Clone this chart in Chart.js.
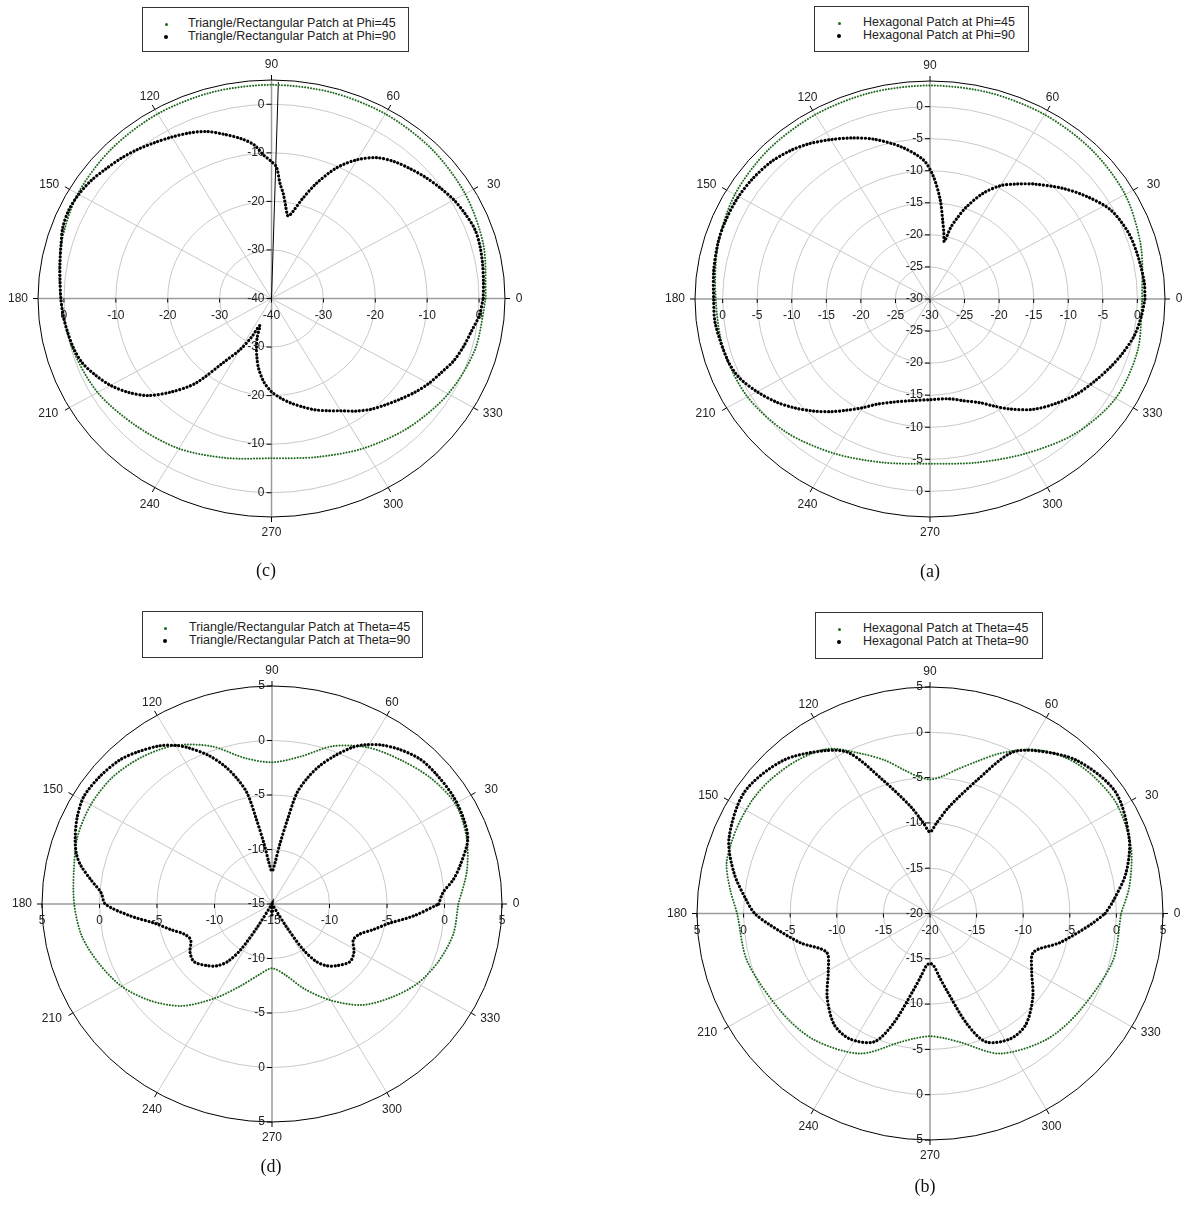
<!DOCTYPE html>
<html>
<head>
<meta charset="utf-8">
<script src="https://cdn.jsdelivr.net/npm/chart.js@4.4.1/dist/chart.umd.min.js"></script>
<style>
body { margin: 0; background: #fff; width: 1188px; height: 1205px; position: relative; overflow: hidden; font-family: "Liberation Sans", Arial, sans-serif; }
canvas { position: absolute; }
.leg { position: absolute; border: 1px solid #333; background: #fff; box-sizing: border-box; }
.leg .txt { position: absolute; white-space: nowrap; font-size: 12.5px; line-height: 13px; color: #222; }
.leg .dot { position: absolute; border-radius: 50%; }
.cap { position: absolute; font-family: "Liberation Serif", "Times New Roman", serif; font-size: 18px; color: #111; transform: translate(-50%, -50%); }
</style>
</head>
<body>
<canvas id="pc" width="594" height="600" style="left:0;top:0;width:594px;height:600px"></canvas>
<canvas id="pa" width="594" height="600" style="left:594px;top:0;width:594px;height:600px"></canvas>
<canvas id="pd" width="594" height="605" style="left:0;top:600px;width:594px;height:605px"></canvas>
<canvas id="pb" width="594" height="605" style="left:594px;top:600px;width:594px;height:605px"></canvas>
<script>
// angle labels around every plot
const angleLabels = [0, 30, 60, 90, 120, 150, 180, 210, 240, 270, 300, 330];

// (c) Triangle/Rectangular, Phi cuts
const cTicks = [-40, -30, -20, -10, 0];
const cAngPhi45 = [0,15,30,45,60,75,90,105,120,135,150,165,180,195,210,225,240,255,270,285,300,315,330,345,360];
const cPhi45 = [1.3,2.3,3.1,3.6,3.9,4.0,4.0,4.0,3.9,3.6,3.1,2.0,0.6,-0.3,-1.3,-3.0,-4.3,-6.0,-7.1,-6.2,-4.4,-2.5,-0.7,0.6,1.3];
const cAngPhi90 = [0,5,10,15,20,25,30,35,40,45,50,55,60,65,70,74,77,79,80,82,84,86,88,90,93,96,100,105,110,115,120,125,130,135,140,145,150,155,160,165,170,175,180,185,190,195,200,205,210,215,220,225,230,235,240,244,248,251,254,257,260,265,270,275,280,285,290,295,300,305,310,315,320,325,330,335,340,345,350,355,360];
const cPhi90 = [0.8,1.0,1.3,1.6,1.7,1.2,0.6,-0.3,-1.2,-2.2,-3.2,-4.6,-7.0,-10.3,-14.8,-18.8,-21.6,-22.7,-22.5,-20.6,-18.3,-16.3,-12.9,-11.8,-10.4,-8.2,-6.6,-5.0,-3.4,-2.4,-1.6,-0.8,0.1,0.9,1.6,2.4,2.9,3.1,2.8,2.0,1.4,0.9,0.6,0.3,-0.1,-0.5,-1.2,-2.6,-4.2,-6.3,-8.9,-12.8,-17.2,-24.0,-27.8,-31.0,-34.0,-31.5,-29.5,-27.5,-25.5,-22.8,-20.8,-19.4,-18.1,-16.9,-15.6,-14.5,-13.3,-11.7,-10.2,-9.0,-7.7,-6.3,-5.0,-3.9,-2.6,-1.7,-0.9,0.2,0.8];
const cStrayAng = [88.3, 88.3];
const cStray = [-40, 4.6];

// (a) Hexagonal, Phi cuts
const aTicks = [-30, -25, -20, -15, -10, -5, 0];
const aAngPhi45 = [0,15,30,45,60,75,90,105,120,135,150,165,180,195,210,225,240,255,270,285,300,315,330,345,360];
const aPhi45 = [0.7,1.6,2.6,3.0,3.2,3.3,3.3,3.3,3.2,3.0,2.6,1.8,1.0,0.9,0.5,-0.6,-2.2,-3.6,-4.3,-3.6,-2.2,-0.3,1.0,1.1,0.7];
const aAngPhi90 = [0,5,13,20,28,35,42,50,55,60,65,70,73,75,77,79,81.5,84.5,88.5,92.5,100,108,114,120,126,131,137,144,151,158,164,172,180,187,198,204,210,216,221,226,231,235,240,245,252,260,270,280,287,294,299,304,311,318,325,332,338,343,349,355,360];
const aPhi90 = [1.1,1.1,0.8,0.5,-0.4,-2.2,-4.2,-6.6,-8.1,-9.6,-11.8,-14.8,-17.0,-18.5,-20.8,-19.5,-17.6,-14.5,-10.9,-8.3,-5.9,-3.8,-2.5,-1.3,-0.1,0.7,1.4,1.8,2.0,2.0,1.9,1.6,1.3,1.3,0.8,0.2,-1.1,-2.6,-4.1,-5.7,-7.4,-8.8,-10.4,-11.9,-13.1,-13.9,-14.3,-14.2,-13.4,-12.3,-10.9,-9.3,-7.2,-5.6,-4.1,-2.9,-1.8,-0.9,0.1,0.7,1.1];

// (d) Triangle/Rectangular, Theta cuts
const dTicks = [-15, -10, -5, 0, 5];
const dAngTh45 = [0,10,20,30,40,50,60,70,80,90,100,110,120,130,140,150,160,170,180,190,200,210,220,230,240,250,260,270,280,290,300,310,320,330,340,350,360];
const dTh45 = [1.2,2.2,3.0,3.4,3.0,2.3,1.6,0.4,-1.3,-2.0,-1.4,0.4,1.8,2.6,3.1,3.2,3.0,2.5,2.2,1.8,1.0,0.1,-1.2,-2.8,-5.0,-7.0,-8.4,-9.1,-8.4,-6.7,-4.8,-2.9,-1.6,-0.4,0.4,1.0,1.2];
const dAngTh90 = [0,4,8,12,19,25,32,40,46,52,57,61,64,68,72,75,78,80,83,86,90,94,97,100,102,105,108,112,117,120,124,130,135,142,149,155,161,165,168,172,176,180,185,190,195,200,205,212,218,225,230,234,237,239,242,250,262,267,270,273,278,290,298,301,303,306,310,315,322,328,335,340,345,350,355,360];
const dTh90 = [-0.5,-0.1,0.9,1.7,3.0,3.4,3.6,3.6,3.5,3.0,2.4,1.7,1.0,-0.3,-1.7,-3.0,-4.6,-7.0,-9.5,-11.2,-12.0,-11.2,-9.5,-7.0,-4.6,-3.0,-1.7,-0.3,1.1,1.8,2.5,3.2,3.7,4.0,4.1,3.7,3.1,2.6,2.0,0.9,-0.1,-0.5,-2.6,-4.7,-5.9,-6.9,-7.2,-6.6,-6.4,-7.0,-7.6,-8.5,-10.0,-12.5,-15.0,-15.0,-15.0,-14.3,-14.0,-14.3,-15.0,-15.0,-15.0,-12.5,-10.0,-8.5,-7.6,-7.0,-6.4,-6.6,-7.2,-6.9,-5.9,-4.7,-2.6,-0.5];

// (b) Hexagonal, Theta cuts
const bTicks = [-20, -15, -10, -5, 0, 5];
const bAngTh45 = [0,8,19,31,40,47,54,60,67,73,80,85,90,95,100,106,113,121,130,139,146,153,160,166,173,180,195,214,228,244,257,263,270,277,283,296,312,326,345,360];
const bTh45 = [0.5,1.6,2.8,3.4,3.2,2.8,2.0,0.9,-0.8,-2.4,-3.9,-4.8,-5.2,-4.8,-3.9,-2.4,-0.8,1.2,2.1,2.6,2.8,2.8,2.7,2.5,1.6,0.7,0.3,-0.7,-1.3,-2.8,-5.4,-6.1,-6.45,-6.1,-5.4,-2.8,-1.3,-0.7,0.3,0.5];
const bAngTh90 = [0,4,12,21,34,47,58,64,71,80,86,90,94,100,109,116,122,133,146,159,168,176,180,184,193,201,210,220,230,238,247,252,258,262,266,270,274,278,282,288,293,302,310,320,330,339,347,356,360];
const bTh90 = [-1.2,-0.3,1.5,2.9,4.0,3.1,1.2,-0.3,-4.4,-8.0,-10.0,-11.0,-10.0,-8.0,-4.4,-0.3,1.2,3.1,4.0,3.1,1.5,-0.3,-1.2,-2.7,-5.7,-8.1,-7.4,-5.6,-4.0,-3.7,-4.6,-7.2,-11.3,-13.0,-14.2,-14.5,-14.2,-13.0,-11.3,-7.2,-4.6,-3.7,-4.0,-5.6,-7.4,-8.1,-5.7,-2.7,-1.2];

const GREEN = '#1f6a1f';

// position des etiquettes d'angle par rapport au bord de l'ellipse
const decalage = { 0: [14, 0], 30: [20, -5], 60: [5, -13], 90: [0, -15], 120: [-5, -13], 150: [-20, -5],
                   180: [-20, 0], 210: [-21, 5.5], 240: [-5, 17], 270: [0, 16], 300: [5, 17], 330: [19, 5.5] };

// grille polaire (ellipses, rayons, graduations) dessinee sur les echelles x/y
const polarGrid = {
    id: 'polarGrid',
    beforeDatasetsDraw(chart, args, o) {
        const ctx = chart.ctx;
        const xs = chart.scales.x, ys = chart.scales.y;
        const span = o.rMax - o.rMin;
        const cx = xs.getPixelForValue(0), cy = ys.getPixelForValue(0);
        const rx = xs.getPixelForValue(span) - cx;
        const ry = cy - ys.getPixelForValue(span);
        const frac = v => (v - o.rMin) / span;
        ctx.save();
        ctx.lineWidth = 1;
        ctx.strokeStyle = '#c9c9c9';
        o.rings.forEach(v => {
            ctx.beginPath();
            ctx.ellipse(cx, cy, rx * frac(v), ry * frac(v), 0, 0, Math.PI * 2);
            ctx.stroke();
        });
        angleLabels.forEach(a => {
            if (a % 90 === 0) return;
            const t = a * Math.PI / 180;
            ctx.beginPath();
            ctx.moveTo(cx, cy);
            ctx.lineTo(cx + rx * Math.cos(t), cy - ry * Math.sin(t));
            ctx.stroke();
        });
        ctx.strokeStyle = '#9c9c9c';
        ctx.lineWidth = 1.5;
        ctx.beginPath();
        ctx.moveTo(cx - rx, cy); ctx.lineTo(cx + rx, cy);
        ctx.moveTo(cx, cy - ry); ctx.lineTo(cx, cy + ry);
        ctx.stroke();
        ctx.strokeStyle = '#000';
        ctx.lineWidth = 1;
        ctx.beginPath();
        ctx.ellipse(cx, cy, rx, ry, 0, 0, Math.PI * 2);
        ctx.stroke();

        ctx.font = '12px "Liberation Sans", Arial, sans-serif';
        ctx.fillStyle = '#222';
        ctx.textAlign = 'center';
        ctx.textBaseline = 'middle';
        angleLabels.forEach(a => {
            const t = a * Math.PI / 180, c = Math.cos(t), s = Math.sin(t);
            const px = cx + rx * c, py = cy - ry * s;
            ctx.beginPath();
            ctx.moveTo(px, py);
            ctx.lineTo(px + 5 * c, py - 5 * s);
            ctx.stroke();
            ctx.fillText(String(a), px + decalage[a][0], py + decalage[a][1]);
        });

        o.ticks.forEach(v => {
            const fx = rx * frac(v), fy = ry * frac(v);
            ctx.textAlign = 'right';
            [-1, 1].forEach(sg => {
                if (sg === 1 && v === o.rMin) return;
                const y = cy + sg * fy;
                ctx.beginPath(); ctx.moveTo(cx - 5, y); ctx.lineTo(cx, y); ctx.stroke();
                ctx.fillText(String(v), cx - 7, y);
            });
            ctx.textAlign = 'center';
            [-1, 1].forEach(sg => {
                if (sg === 1 && v === o.rMin) return;
                const x = cx + sg * fx;
                ctx.beginPath(); ctx.moveTo(x, cy); ctx.lineTo(x, cy + 4); ctx.stroke();
                ctx.fillText(String(v), x, cy + 17);
            });
        });
        ctx.restore();
    }
};

function polaire(angles, valeurs, rMin) {
    return angles.map((a, i) => {
        const r = Math.max(valeurs[i], rMin) - rMin;
        const t = a * Math.PI / 180;
        return { x: r * Math.cos(t), y: r * Math.sin(t) };
    });
}

function courbeNoire(data) {
    return { data: data, showLine: true, borderColor: '#000', borderWidth: 3.2,
             borderDash: [0.1, 3.6], borderCapStyle: 'round', tension: 0.3, pointRadius: 0 };
}
function courbeVerte(data) {
    return { data: data, showLine: true, borderColor: GREEN, borderWidth: 2,
             borderDash: [0.1, 2.8], borderCapStyle: 'round', tension: 0.3, pointRadius: 0 };
}

function genererPolaire(id, p, padding, datasets) {
    const span = p.rMax - p.rMin;
    return new Chart(document.getElementById(id).getContext('2d'), {
        type: 'scatter',
        data: { datasets: datasets },
        options: {
            responsive: false,
            animation: false,
            devicePixelRatio: 1,
            layout: { padding: padding },
            scales: {
                x: { type: 'linear', min: -span, max: span, display: false },
                y: { type: 'linear', min: -span, max: span, display: false }
            },
            plugins: {
                legend: { display: false },
                tooltip: { enabled: false },
                polarGrid: p
            }
        },
        plugins: [polarGrid]
    });
}

const pc = { rMin: -40, rMax: 5, rings: [-30, -20, -10, 0], ticks: cTicks };
genererPolaire('pc', pc, { left: 38, right: 89, top: 80, bottom: 83 }, [
    courbeNoire(polaire(cAngPhi90, cPhi90, pc.rMin)),
    courbeVerte(polaire(cAngPhi45, cPhi45, pc.rMin)),
    { data: polaire(cStrayAng, cStray, pc.rMin), showLine: true, borderColor: '#000', borderWidth: 1, pointRadius: 0 }
]);

const pa = { rMin: -30, rMax: 4, rings: [-25, -20, -15, -10, -5, 0], ticks: aTicks };
genererPolaire('pa', pa, { left: 101, right: 23, top: 81, bottom: 83 }, [
    courbeNoire(polaire(aAngPhi90, aPhi90, pa.rMin)),
    courbeVerte(polaire(aAngPhi45, aPhi45, pa.rMin))
]);

const pd = { rMin: -15, rMax: 5, rings: [-10, -5, 0], ticks: dTicks };
genererPolaire('pd', pd, { left: 42, right: 92, top: 86, bottom: 83 }, [
    courbeNoire(polaire(dAngTh90, dTh90, pd.rMin)),
    courbeVerte(polaire(dAngTh45, dTh45, pd.rMin))
]);

const pb = { rMin: -20, rMax: 5, rings: [-15, -10, -5, 0], ticks: bTicks };
genererPolaire('pb', pb, { left: 103, right: 25, top: 87, bottom: 65 }, [
    courbeNoire(polaire(bAngTh90, bTh90, pb.rMin)),
    courbeVerte(polaire(bAngTh45, bTh45, pb.rMin))
]);

// legendes et lettres des sous-figures
function legende(x, y, w, h, dotX, txtX, lignes) {
    const box = document.createElement('div');
    box.className = 'leg';
    box.style.cssText = `left:${x}px;top:${y}px;width:${w}px;height:${h}px`;
    lignes.forEach((texte, i) => {
        const cy = 16 + i * 13;
        const d = document.createElement('div');
        d.className = 'dot';
        const sz = i === 0 ? 3 : 4;
        d.style.cssText = `left:${dotX - sz / 2}px;top:${cy - sz / 2}px;width:${sz}px;height:${sz}px;background:${i === 0 ? GREEN : '#000'}`;
        box.appendChild(d);
        const t = document.createElement('div');
        t.className = 'txt';
        t.style.cssText = `left:${txtX}px;top:${cy - 7}px`;
        t.textContent = texte;
        box.appendChild(t);
    });
    document.body.appendChild(box);
}
function legendeFigure(txt, x, y) {
    const c = document.createElement('div');
    c.className = 'cap';
    c.style.cssText = `left:${x}px;top:${y}px`;
    c.textContent = txt;
    document.body.appendChild(c);
}

legende(142, 7, 267, 45, 23, 45, ['Triangle/Rectangular Patch at Phi=45', 'Triangle/Rectangular Patch at Phi=90']);
legende(814, 6, 215, 46, 24, 48, ['Hexagonal Patch at Phi=45', 'Hexagonal Patch at Phi=90']);
legende(142, 611, 281, 47, 22, 46, ['Triangle/Rectangular Patch at Theta=45', 'Triangle/Rectangular Patch at Theta=90']);
legende(815, 612, 228, 47, 23, 47, ['Hexagonal Patch at Theta=45', 'Hexagonal Patch at Theta=90']);

legendeFigure('(c)', 266, 570);
legendeFigure('(a)', 930, 571);
legendeFigure('(d)', 271, 1166);
legendeFigure('(b)', 925, 1186);
</script>
</body>
</html>
